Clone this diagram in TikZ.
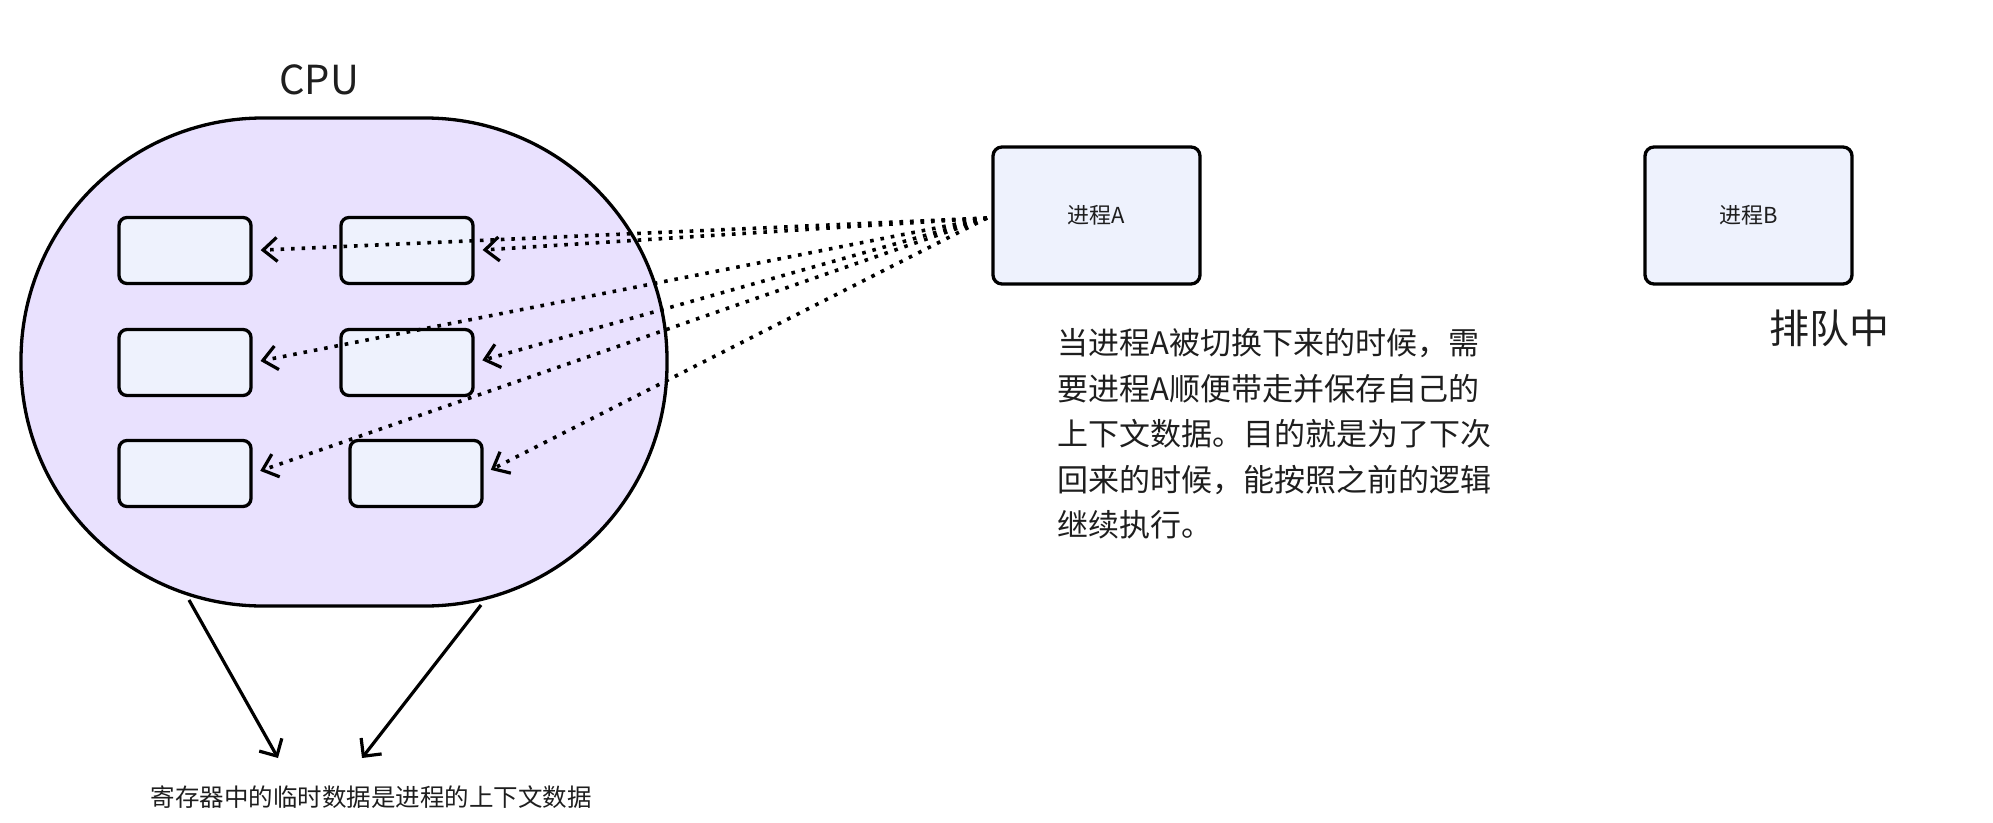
\documentclass[tikz,border=0pt]{standalone}
\usepackage{fontspec}
\setmainfont{Noto Sans CJK SC}
\usetikzlibrary{arrows.meta}
\definecolor{blobfill}{HTML}{E9E1FE}
\definecolor{boxfill}{HTML}{EEF2FD}
\definecolor{txt}{HTML}{1E1E1E}
\tikzset{
  regbox/.style={draw=black, line width=3.3pt, fill=boxfill, rounded corners=8pt,
    minimum width=132pt, minimum height=66pt, inner sep=0pt},
  procbox/.style={draw=black, line width=3.3pt, fill=boxfill, rounded corners=9pt,
    minimum width=207pt, minimum height=137pt, inner sep=0pt,
    font=\fontsize{22}{26}\selectfont, text=txt},
  dotarrow/.style={line width=3.6pt, dash pattern=on 3.6pt off 6.9pt,
    -{Straight Barb[length=14pt,width=24pt,line width=3.2pt]}, shorten >=8pt},
  solidarrow/.style={line width=3.2pt, -{Straight Barb[length=13pt,width=26pt,line width=3.2pt]}},
  paraline/.style={anchor=west, inner sep=0pt, font=\fontsize{31}{40}\selectfont, text=txt}
}
\begin{document}
\begin{tikzpicture}[x=1pt,y=-1pt]
\useasboundingbox (0,0) rectangle (1993,822);
% CPU blob
\node[inner sep=0pt, font=\fontsize{40}{44}\selectfont, text=txt] (cpu) at (319,80) {CPU};
\draw[line width=3.3pt, fill=blobfill, rounded corners=242pt] (21,118) rectangle (667,606);
% register boxes
\node[regbox] (b11) at (185,250.5) {};
\node[regbox] (b12) at (407,250.5) {};
\node[regbox] (b21) at (185,362.5) {};
\node[regbox] (b22) at (407,362.5) {};
\node[regbox] (b31) at (185,473.5) {};
\node[regbox] (b32) at (416,473.5) {};
% processes
\node[procbox] (pA) at (1096.5,215.5) {进程A};
\node[procbox] (pB) at (1748.5,215.5) {进程B};
\coordinate (src) at (987,218);
% dotted arrows
\draw[dotarrow] (src) -- (b11.east);
\draw[dotarrow] (src) -- (b12.east);
\draw[dotarrow] (src) -- (b21.east);
\draw[dotarrow] (src) -- (b22.east);
\draw[dotarrow] (src) -- (b31.east);
\draw[dotarrow] (src) -- (b32.east);
% labels
\node[inner sep=0pt, font=\fontsize{40}{44}\selectfont, text=txt] (queue) at (1829,328) {排队中};
\node[paraline] (p1) at (1057,343) {当进程A被切换下来的时候，需};
\node[paraline] (p2) at (1057,389) {要进程A顺便带走并保存自己的};
\node[paraline] (p3) at (1057,434) {上下文数据。目的就是为了下次};
\node[paraline] (p4) at (1057,480) {回来的时候，能按照之前的逻辑};
\node[paraline] (p5) at (1057,525) {继续执行。};
% bottom
\node[inner sep=0pt, font=\fontsize{24.5}{28}\selectfont, text=txt] (note) at (371,797) {寄存器中的临时数据是进程的上下文数据};
\coordinate (s1) at (189,600);
\coordinate (e1) at (278,758);
\coordinate (s2) at (481,605);
\coordinate (e2) at (362,758);
\draw[solidarrow] (s1) -- (e1);
\draw[solidarrow] (s2) -- (e2);
\end{tikzpicture}
\end{document}
